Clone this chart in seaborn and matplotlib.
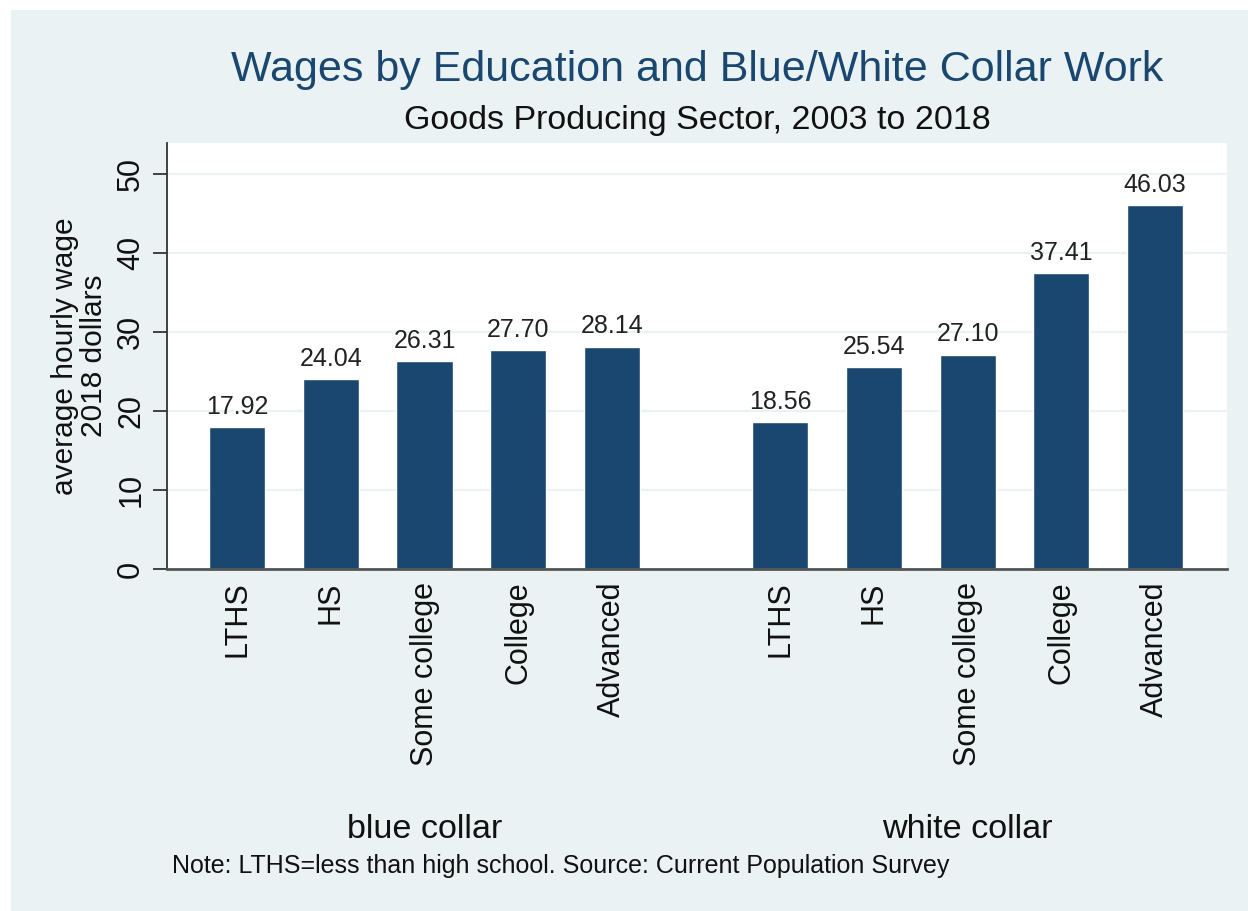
import matplotlib
matplotlib.use("Agg")
import matplotlib.pyplot as plt
from matplotlib.patches import Rectangle
import seaborn as sns
import pandas as pd

# Education levels and average hourly wages (2018 dollars)
education = ["LTHS", "HS", "Some college", "College", "Advanced"]
blue_collar = [17.92, 24.04, 26.31, 27.70, 28.14]
white_collar = [18.56, 25.54, 27.10, 37.41, 46.03]
groups = ["blue collar", "white collar"]

title = "Wages by Education and Blue/White Collar Work"
subtitle = "Goods Producing Sector, 2003 to 2018"
note = "Note: LTHS=less than high school. Source: Current Population Survey"
ylabel = "average hourly wage\n2018 dollars"
yticks = [0, 10, 20, 30, 40, 50]

# bar positions: two clusters separated by a wider gap
group_gap = 1.8
blue_pos = [float(i) for i in range(len(education))]
white_pos = [blue_pos[-1] + group_gap + i for i in range(len(education))]

df = pd.DataFrame({
    "pos": blue_pos + white_pos,
    "wage": blue_collar + white_collar,
    "edu": education + education,
})

BG = "#EAF2F3"
NAVY = "#1A476F"

sns.set_theme(style="white")
plt.rcParams["font.family"] = ["Liberation Sans", "DejaVu Sans"]

fig = plt.figure(figsize=(12.48, 9.11), dpi=100)
fig.patch.set_facecolor("white")
fig.add_artist(Rectangle((11 / 1248, 0), 1 - 11 / 1248, 1 - 10 / 911,
                         transform=fig.transFigure, facecolor=BG,
                         edgecolor="none", zorder=-10))

ax = fig.add_axes([167 / 1248, (911 - 569) / 911, 1060 / 1248, 426 / 911])
ax.set_facecolor("white")

sns.barplot(data=df, x="pos", y="wage", native_scale=True, width=0.6,
            color=NAVY, saturation=1, ax=ax, errorbar=None)
for c in ax.containers:
    ax.bar_label(c, fmt="%.2f", padding=6, fontsize=18, color="#222222")

ax.set_xlim(blue_pos[0] - 0.75, white_pos[-1] + 0.77)
ax.set_ylim(0, 53.9)
ax.set_yticks(yticks)
ax.set_yticklabels([str(t) for t in yticks])
ax.yaxis.grid(True, color=BG, linewidth=1.6)
ax.set_axisbelow(True)

ax.set_xticks(df["pos"])
ax.set_xticklabels(df["edu"], rotation=90, ha="center", va="top")
ax.tick_params(axis="x", length=0, pad=9, labelsize=22, labelcolor="#111111")
ax.tick_params(axis="y", length=10, width=1.3, color="#333333", pad=5,
               labelsize=22, labelrotation=90, labelcolor="#111111",
               left=True)
for lab in ax.get_yticklabels():
    lab.set_va("center")

for side in ["top", "right"]:
    ax.spines[side].set_visible(False)
ax.spines["left"].set_color("#333333")
ax.spines["left"].set_linewidth(1.3)
ax.spines["bottom"].set_color("#555555")
ax.spines["bottom"].set_linewidth(2)

ax.set_xlabel("")
ax.set_ylabel(ylabel, fontsize=21.5, color="#111111", labelpad=6,
              linespacing=1.05)

# group captions under each cluster
for name, pos in zip(groups, [blue_pos, white_pos]):
    center = (pos[0] + pos[-1]) / 2
    ax.text(center, -(830 - 569) / 426, name,
            transform=ax.get_xaxis_transform(),
            ha="center", va="center", fontsize=24.6, color="#111111")

cx = (167 + 1227) / 2 / 1248
fig.text(cx, 1 - 70 / 911, title, ha="center", va="center",
         fontsize=31, color=NAVY)
fig.text(cx, 1 - 120 / 911, subtitle, ha="center", va="center",
         fontsize=24.5, color="#111111")
fig.text(172 / 1248, 1 - 866 / 911, note, ha="left", va="center",
         fontsize=18, color="#111111")

fig.savefig("out.png", dpi=100, facecolor=fig.get_facecolor())
